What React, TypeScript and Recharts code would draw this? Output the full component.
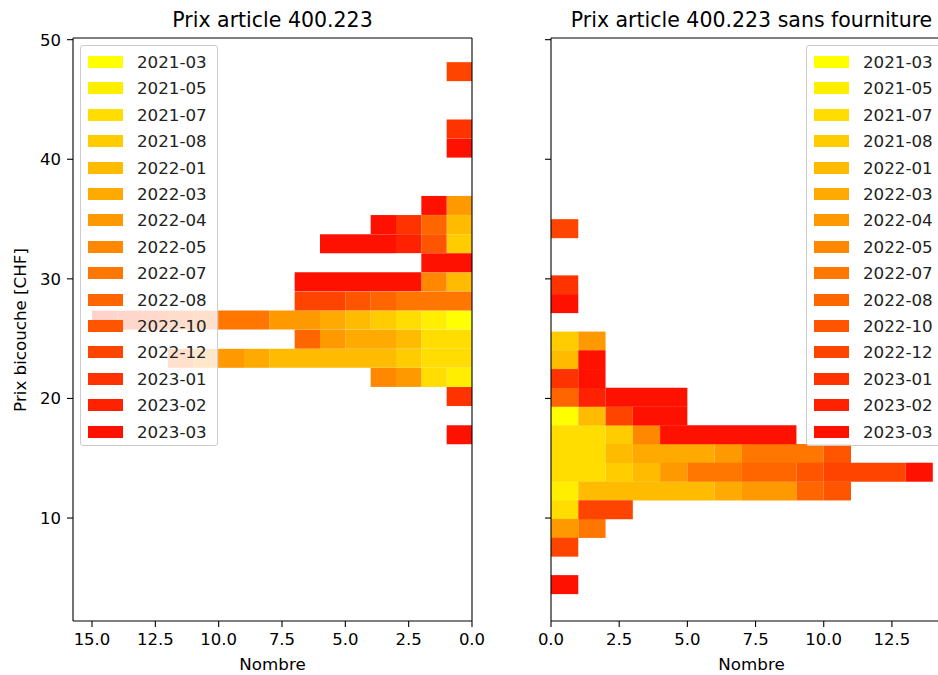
import { BarChart, Bar, XAxis, YAxis, ReferenceLine } from 'recharts'

// ---------------------------------------------------------------------------
// Two stacked horizontal histograms (20 bins each) of the price per month.
// Each bin lists the month indices of its segments, from x = 0 outward.
// ---------------------------------------------------------------------------

const months = [
  '2021-03', '2021-05', '2021-07', '2021-08', '2022-01', '2022-03', '2022-04', '2022-05',
  '2022-07', '2022-08', '2022-10', '2022-12', '2023-01', '2023-02', '2023-03',
]

const colors = [
  '#ffff00', '#ffee00', '#ffdd00', '#ffcc00', '#ffbb00', '#ffaa00', '#ff9900', '#ff8800',
  '#ff7700', '#ff6600', '#ff5500', '#ff4400', '#ff3300', '#ff2200', '#ff1100',
]

// histogram ranges (min, max)
const leftBinRange = [16.16, 48.12]
const rightBinRange = [3.66, 34.99]

// bins from the lowest price upward
const leftSegments: number[][] = [
  [14],
  [],
  [12],
  [1, 2, 6, 7],
  [2, 2, 3, 4, 4, 4, 4, 4, 5, 6, 7, 9],
  [2, 2, 4, 5, 5, 6, 9],
  [0, 1, 2, 3, 4, 5, 6, 6, 8, 8, 9, 10, 11, 12, 13],
  [8, 8, 8, 9, 10, 11, 11],
  [4, 7, 14, 14, 14, 14, 14],
  [14, 14],
  [3, 10, 13, 14, 14, 14],
  [4, 9, 12, 14],
  [6, 14],
  [],
  [],
  [14],
  [12],
  [],
  [],
  [11],
]

const rightSegments: number[][] = [
  [14],
  [],
  [11],
  [6, 8],
  [2, 11, 11],
  [1, 4, 4, 4, 4, 4, 5, 6, 6, 9, 10],
  [2, 2, 3, 4, 6, 8, 8, 9, 9, 10, 11, 11, 11, 14],
  [2, 2, 4, 5, 5, 5, 6, 8, 8, 8, 10],
  [2, 2, 3, 7, 14, 14, 14, 14, 14],
  [0, 4, 11, 14, 14],
  [9, 13, 14, 14, 14],
  [12, 14],
  [4, 14],
  [3, 6],
  [],
  [14],
  [12],
  [],
  [],
  [11],
]

const yTicks = [10, 20, 30, 40, 50]
const leftXTicks = [0, 2.5, 5, 7.5, 10, 12.5, 15]
const rightXTicks = [0, 2.5, 5, 7.5, 10, 12.5]

const Y_DOMAIN: [number, number] = [1.39, 50.14]
const FONT = '"DejaVu Sans", sans-serif'
const TICK_FONT = 16.5

function buildRows(segments: number[][], range: number[]) {
  const w = (range[1] - range[0]) / segments.length
  return segments.map((segs, k) => {
    const row: Record<string, number> = { bin: range[0] + (k + 0.5) * w }
    months.forEach((m, i) => {
      row[m] = segs.filter((s) => s === i).length
    })
    return row
  })
}

const leftData = buildRows(leftSegments, leftBinRange)
const rightData = buildRows(rightSegments, rightBinRange)

interface PanelProps {
  data: Record<string, number>[]
  width: number
  marginLeft: number
  marginRight: number
  xDomain: [number, number]
  xTicks: number[]
  reversed: boolean
  showYLabels: boolean
}

function Panel({ data, width, marginLeft, marginRight, xDomain, xTicks, reversed, showYLabels }: PanelProps) {
  const line = { stroke: '#000', strokeWidth: 1.1 }
  return (
    <BarChart
      width={width}
      height={675}
      layout="vertical"
      data={data}
      margin={{ top: 38, right: marginRight, bottom: 9, left: marginLeft }}
      barCategoryGap={0}
      barGap={0}
    >
      <XAxis
        type="number"
        domain={xDomain}
        ticks={xTicks}
        interval={0}
        reversed={reversed}
        allowDataOverflow
        height={45}
        tickFormatter={(v: number) => v.toFixed(1)}
        axisLine={line}
        tickLine={line}
        tickSize={6}
        tickMargin={6}
        tick={{ fill: '#000', fontSize: TICK_FONT }}
      />
      <YAxis
        type="number"
        dataKey="bin"
        domain={Y_DOMAIN}
        ticks={yTicks}
        interval={0}
        reversed
        allowDataOverflow
        width={40}
        tickFormatter={(v: number) => (showYLabels ? String(v) : '')}
        axisLine={line}
        tickLine={line}
        tickSize={6}
        tickMargin={6}
        tick={{ fill: '#000', fontSize: TICK_FONT }}
      />
      {months.map((m, i) => (
        <Bar key={m} dataKey={m} stackId="h" fill={colors[i]} isAnimationActive={false} />
      ))}
      <ReferenceLine y={Y_DOMAIN[1]} stroke="#000" strokeWidth={1.1} />
      {reversed && <ReferenceLine x={0} stroke="#000" strokeWidth={1.1} />}
    </BarChart>
  )
}

function MonthLegend({ left }: { left: number }) {
  return (
    <div
      style={{
        position: 'absolute',
        left,
        top: 45,
        width: 138,
        height: 401,
        boxSizing: 'border-box',
        background: 'rgba(255,255,255,0.8)',
        border: '1px solid #cccccc',
        borderRadius: 3,
      }}
    >
      {months.map((m, i) => (
        <div key={m} style={{ position: 'absolute', left: 0, top: 17 + i * 26.4 - 1, width: '100%' }}>
          <div
            style={{
              position: 'absolute',
              left: 7,
              top: -6,
              width: 35,
              height: 12,
              background: colors[i],
            }}
          />
          <div
            style={{
              position: 'absolute',
              left: 56,
              top: -11,
              fontSize: 16.7,
              lineHeight: '22px',
              color: '#222',
              whiteSpace: 'nowrap',
            }}
          >
            {m}
          </div>
        </div>
      ))}
    </div>
  )
}

const textStyle = {
  position: 'absolute' as const,
  transform: 'translate(-50%, -50%)',
  whiteSpace: 'nowrap' as const,
  color: '#000',
}

export default function App() {
  return (
    <div
      style={{
        position: 'absolute',
        left: 0,
        top: 0,
        width: 938,
        height: 675,
        overflow: 'hidden',
        background: '#fff',
        fontFamily: FONT,
      }}
    >
      <div style={{ position: 'absolute', left: 0, top: 0 }}>
        <Panel
          data={leftData}
          width={500}
          marginLeft={33}
          marginRight={28}
          xDomain={[0, 15.75]}
          xTicks={leftXTicks}
          reversed
          showYLabels
        />
      </div>
      <div style={{ position: 'absolute', left: 500, top: 0 }}>
        <Panel
          data={rightData}
          width={438}
          marginLeft={11}
          marginRight={0}
          xDomain={[0, 14.19]}
          xTicks={rightXTicks}
          reversed={false}
          showYLabels={false}
        />
      </div>
      <MonthLegend left={80} />
      <MonthLegend left={806} />
      <div style={{ ...textStyle, left: 272.5, top: 20, fontSize: 20.5 }}>Prix article 400.223</div>
      <div style={{ ...textStyle, left: 751.5, top: 20, fontSize: 20.5 }}>
        Prix article 400.223 sans fourniture
      </div>
      <div style={{ ...textStyle, left: 272.5, top: 664, fontSize: 16.7 }}>Nombre</div>
      <div style={{ ...textStyle, left: 751.5, top: 664, fontSize: 16.7 }}>Nombre</div>
      <div
        style={{
          ...textStyle,
          left: 20,
          top: 329.5,
          fontSize: 16.7,
          transform: 'translate(-50%, -50%) rotate(-90deg)',
        }}
      >
        Prix bicouche [CHF]
      </div>
    </div>
  )
}
